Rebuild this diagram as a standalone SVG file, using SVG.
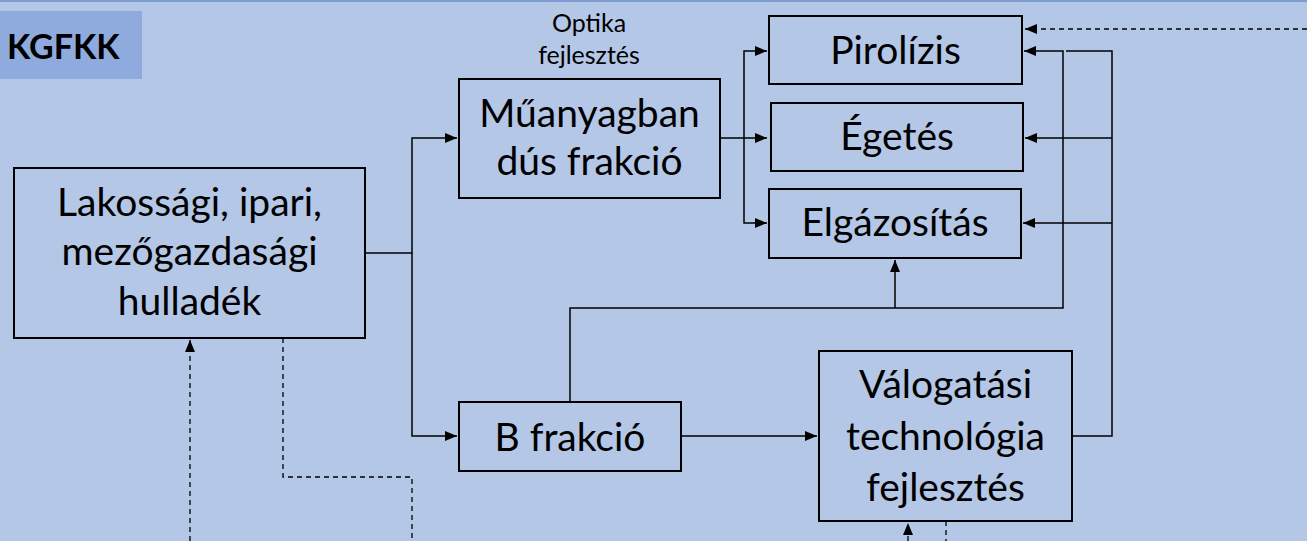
<svg xmlns="http://www.w3.org/2000/svg" width="1307" height="541" viewBox="0 0 1307 541">
<style>
.bg{fill:#B4C7E7}
.box{fill:none;stroke:#000;stroke-width:2}
.t{font-family:Lato,"Open Sans",sans-serif;font-size:39px;fill:#000;text-anchor:middle}
.s{font-family:Lato,"Open Sans",sans-serif;font-size:25px;fill:#000;text-anchor:middle}
.c{fill:none;stroke:#000;stroke-width:1.5}
.d{fill:none;stroke:#000;stroke-width:1.3;stroke-dasharray:5,4}
</style>
<defs>
<marker id="ah" markerWidth="12" markerHeight="10" refX="12" refY="5" orient="auto" markerUnits="userSpaceOnUse">
<path d="M0,0 L12,5 L0,10 Z" fill="#000"/>
</marker>
</defs>
<rect class="bg" x="0" y="0" width="1307" height="541"/>
<line x1="0" y1="1" x2="1307" y2="1" stroke="#7F9CD0" stroke-width="2"/>
<g id="kgfkk">
<rect x="0" y="11" width="142" height="68" fill="#8FAADC"/>
<text x="7" y="59" style="font-family:Lato,'Open Sans',sans-serif;font-weight:bold;font-size:34px">KGFKK</text>
</g>
<g id="connectors">
<path class="c" d="M365,253 H412 V138 H457" marker-end="url(#ah)"/>
<path class="c" d="M412,253 V436 H457" marker-end="url(#ah)"/>
<path class="c" d="M720,138 H767" marker-end="url(#ah)"/>
<path class="c" d="M744,138 V51 H767" marker-end="url(#ah)"/>
<path class="c" d="M744,138 V223 H767" marker-end="url(#ah)"/>
<path class="c" d="M681,436 H817" marker-end="url(#ah)"/>
<path class="c" d="M570,402 V308 H1063 V51 H1024" marker-end="url(#ah)"/>
<path class="c" d="M895,308 V260" marker-end="url(#ah)"/>
<path class="c" d="M1072,436 H1112 V51 H1066"/>
<path class="c" d="M1112,138 H1025" marker-end="url(#ah)"/>
<path class="c" d="M1112,223 H1023" marker-end="url(#ah)"/>
<path class="d" d="M1307,29 H1025" stroke="#333" marker-end="url(#ah)"/>
<path class="d" d="M190,541 V340" marker-end="url(#ah)"/>
<path class="d" d="M283,338 V477 H412 V541"/>
<path class="d" d="M908,541 V523" marker-end="url(#ah)"/>
<path class="d" d="M946,521 V541"/>
</g>
<g id="lakossagi">
<rect class="box" x="14" y="168" width="351" height="170"/>
<text class="t" x="189.5" y="216">Lakossági, ipari,</text>
<text class="t" x="189.5" y="265">mezőgazdasági</text>
<text class="t" x="189.5" y="315">hulladék</text>
</g>
<g id="optika">
<text class="s" x="589" y="32">Optika</text>
<text class="s" x="589" y="64">fejlesztés</text>
</g>
<g id="muanyag">
<rect class="box" x="459" y="79" width="261" height="119"/>
<text class="t" x="589.5" y="127">Műanyagban</text>
<text class="t" x="589.5" y="175">dús frakció</text>
</g>
<g id="bfrakcio">
<rect class="box" x="459" y="402" width="222" height="69"/>
<text class="t" x="570" y="451">B frakció</text>
</g>
<g id="pirolizis">
<rect class="box" x="769" y="16" width="253" height="68"/>
<text class="t" x="895.5" y="64">Pirolízis</text>
</g>
<g id="egetes">
<rect class="box" x="771" y="103" width="252" height="68"/>
<text class="t" x="897" y="150">Égetés</text>
</g>
<g id="elgazositas">
<rect class="box" x="769" y="189" width="252" height="69"/>
<text class="t" x="895" y="236">Elgázosítás</text>
</g>
<g id="valogatasi">
<rect class="box" x="819" y="351" width="253" height="170"/>
<text class="t" x="945.5" y="398">Válogatási</text>
<text class="t" x="945.5" y="450">technológia</text>
<text class="t" x="945.5" y="501">fejlesztés</text>
</g>
</svg>
